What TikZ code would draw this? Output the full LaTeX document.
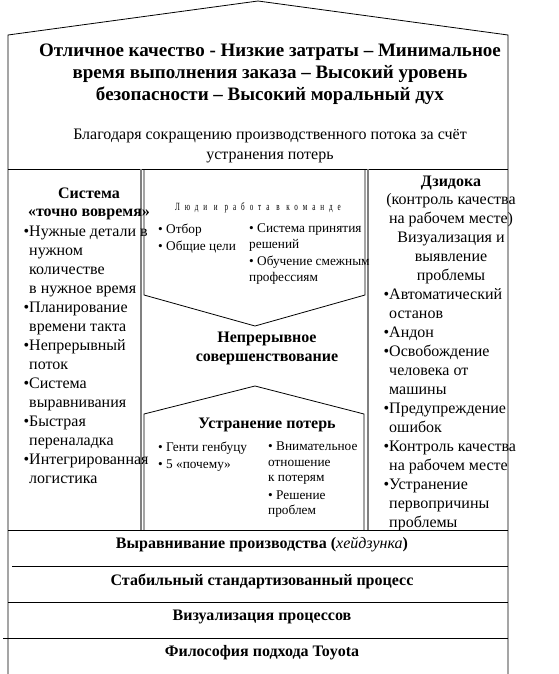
\documentclass[tikz,border=0pt]{standalone}
\usepackage{fontspec}
\setmainfont{Liberation Serif}
\newfontfamily\spacedfont[LetterSpace=45,FakeStretch=0.65]{Liberation Serif}
\begin{document}
\begin{tikzpicture}[x=1pt,y=-1pt,every node/.style={inner sep=0pt},
  hd/.style={font=\bfseries\fontsize{16}{19}\selectfont,align=center,anchor=north},
  lst/.style={font=\fontsize{16}{19}\selectfont,align=left,anchor=north west},
  sm/.style={font=\fontsize{13.3}{16.5}\selectfont,align=left,anchor=north west},
  band/.style={font=\bfseries\fontsize{16}{19}\selectfont},
  wall/.style={line width=0.8pt},
  pillar/.style={line width=1.6pt,gray}]
\useasboundingbox (0,0) rectangle (558,674);
% roof and walls
\coordinate (apex) at (258,1);
\coordinate (eaveL) at (8,35);
\coordinate (eaveR) at (508,35);
\draw[wall] (8,674) -- (eaveL) -- (apex) -- (eaveR) -- (508,674);
\draw[wall] (8,169) -- (508,169);
% pillars
\draw[pillar] (141,169) -- (141,530);
\draw[pillar] (368,169) -- (368,530);
% centre: arrow down and small house up
\draw[wall] (144,169) -- (144,295) -- (255,326) -- (365,295) -- (365,169);
\draw[wall] (144,530) -- (144,414) -- (255,386) -- (364,414) -- (364,530);
% foundation bands
\draw[wall] (8,530) -- (508,530);
\draw[wall] (12,566) -- (508,566);
\draw[wall] (8,602) -- (508,602);
\draw[wall] (3,638) -- (508,638);
% roof text
\node[font=\bfseries\fontsize{19}{22}\selectfont,align=center,anchor=north] (goal) at (270,44)
  {Отличное качество - Низкие затраты – Минимальное\\время выполнения заказа – Высокий уровень\\безопасности – Высокий моральный дух};
\node[font=\fontsize{16}{20}\selectfont,align=center,anchor=north] (means) at (270,129)
  {Благодаря сокращению производственного потока за счёт\\устранения потерь};
% left pillar
\node[hd,font=\bfseries\fontsize{16}{18}\selectfont] (jit) at (89,188) {Система\\«точно вовремя»};
\node[lst] (jitlist) at (29,226) {\llap{•}Нужные детали в\\нужном\\количестве\\в нужное время\\
  \llap{•}Планирование\\времени такта\\\llap{•}Непрерывный\\поток\\\llap{•}Система\\выравнивания\\
  \llap{•}Быстрая\\переналадка\\\llap{•}Интегрированная\\логистика};
% right pillar
\node[hd] (jid) at (451,176) {Дзидока};
\node[font=\fontsize{16}{19}\selectfont,align=center,anchor=north] (jidsub) at (451,193)
  {(контроль качества\\на рабочем месте)\\Визуализация и\\выявление\\проблемы};
\node[lst] (jidlist) at (389,288) {\llap{•}Автоматический\\останов\\\llap{•}Андон\\\llap{•}Освобождение\\человека от\\машины\\
  \llap{•}Предупреждение\\ошибок\\\llap{•}Контроль качества\\на рабочем месте\\\llap{•}Устранение\\первопричины\\проблемы};
% centre
\node[font=\spacedfont\fontsize{11}{12}\selectfont,anchor=north] (team) at (258,202) {Люди и работа в команде};
\node[sm] (teamL) at (158,224) {• Отбор\\• Общие цели};
\node[sm] (teamR) at (249,223) {• Система принятия\\решений\\• Обучение смежным\\профессиям};
\node[hd] (kaizen) at (267,332) {Непрерывное\\совершенствование};
\node[hd] (muda) at (267,418) {Устранение потерь};
\node[sm] (mudaL) at (158,442) {• Генти генбуцу\\• 5 «почему»};
\node[sm,font=\fontsize{13.3}{15.3}\selectfont] (mudaR) at (268,442) {• Внимательное\\отношение\\к потерям\\[2.5pt]• Решение\\проблем};
% foundation text
\node[band] (heij) at (262,545) {Выравнивание производства (\textmd{\itshape хейдзунка})};
\node[band] (std) at (262,581) {Стабильный стандартизованный процесс};
\node[band] (vis) at (262,617) {Визуализация процессов};
\node[band] (phil) at (262,653) {Философия подхода Toyota};
\end{tikzpicture}
\end{document}
